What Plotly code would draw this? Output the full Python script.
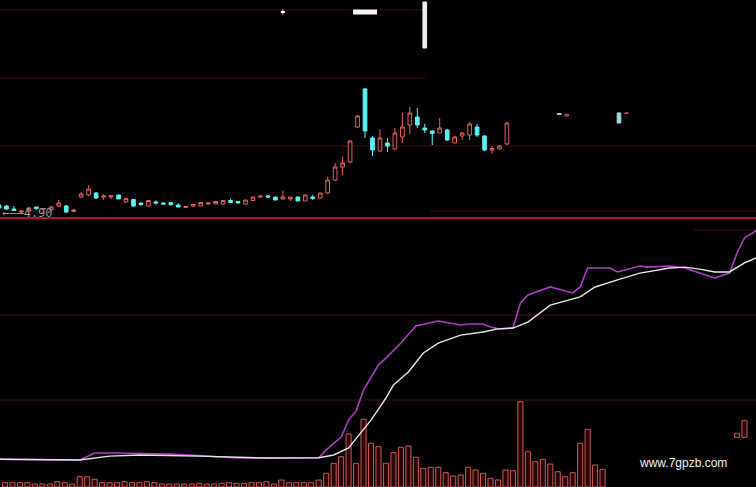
import plotly.graph_objects as go

# ---------------- price panel (daily candles) ----------------
days = list(range(69))
opens = [5.06, 5.04, 4.98, 4.92, 4.94, 5.02, 4.98, 4.96, 5.04, 5.04,
         4.93, 5.22, 5.26, 5.30, 5.22, 5.22, 5.26, 5.12, 5.17, 5.10,
         5.04, 5.12, 5.10, 5.11, 5.06, 5.01, 5.04, 5.04, 5.08, 5.08,
         5.08, 5.15, 5.13, 5.08, 5.15, 5.22, 5.24, 5.22, 5.18, 5.18,
         5.22, 5.14, 5.22, 5.20, 5.30, 5.56, 5.82, 5.92, 6.62, 7.38,
         6.40, 6.14, 6.30, 6.18, 6.42, 6.66, 6.82, 6.60, 6.54, 6.50,
         6.56, 6.30, 6.44, 6.46, 6.62, 6.44, 6.16, 6.18, 6.28]
closes = [5.00, 4.98, 4.95, 4.94, 5.00, 4.99, 4.99, 5.02, 5.10, 4.92,
          4.96, 5.28, 5.38, 5.20, 5.24, 5.25, 5.18, 5.19, 5.04, 5.07,
          5.15, 5.10, 5.08, 5.07, 5.02, 5.03, 5.07, 5.11, 5.10, 5.13,
          5.15, 5.11, 5.10, 5.16, 5.22, 5.24, 5.22, 5.16, 5.22, 5.22,
          5.14, 5.26, 5.19, 5.30, 5.56, 5.82, 5.90, 6.34, 6.84, 6.54,
          6.16, 6.40, 6.24, 6.50, 6.62, 6.90, 6.66, 6.56, 6.49, 6.60,
          6.36, 6.42, 6.50, 6.68, 6.46, 6.16, 6.19, 6.24, 6.70]
highs = [5.08, 5.06, 5.04, 4.96, 5.02, 5.02, 5.00, 5.04, 5.16, 5.06,
         4.98, 5.32, 5.46, 5.32, 5.28, 5.26, 5.26, 5.20, 5.18, 5.10,
         5.16, 5.15, 5.11, 5.11, 5.10, 5.04, 5.08, 5.11, 5.11, 5.13,
         5.15, 5.19, 5.13, 5.16, 5.23, 5.25, 5.26, 5.22, 5.35, 5.22,
         5.22, 5.26, 5.26, 5.30, 5.62, 5.90, 6.02, 6.36, 6.86, 7.40,
         6.44, 6.58, 6.40, 6.60, 6.90, 7.02, 7.00, 6.68, 6.55, 6.80,
         6.58, 6.44, 6.52, 6.72, 6.68, 6.46, 6.24, 6.26, 6.72]
lows = [4.98, 4.96, 4.94, 4.90, 4.92, 4.96, 4.96, 4.94, 5.02, 4.90,
        4.92, 5.20, 5.24, 5.18, 5.16, 5.18, 5.18, 5.10, 5.03, 5.04,
        5.03, 5.07, 5.07, 5.04, 5.02, 5.00, 5.03, 5.04, 5.07, 5.08,
        5.08, 5.11, 5.09, 5.08, 5.14, 5.21, 5.20, 5.16, 5.18, 5.14,
        5.14, 5.14, 5.16, 5.20, 5.28, 5.54, 5.66, 5.90, 6.60, 6.40,
        6.04, 6.12, 6.12, 6.16, 6.30, 6.48, 6.60, 6.50, 6.26, 6.50,
        6.34, 6.30, 6.36, 6.36, 6.42, 6.14, 6.08, 6.17, 6.26]

# stray ticks drawn to the right of the last candle
extra_days = [75, 76, 83, 84]
extra_open = [6.89, 6.84, 6.90, 6.89]
extra_close = [6.87, 6.87, 6.70, 6.90]
extra_high = [6.90, 6.89, 6.91, 6.91]
extra_low = [6.86, 6.83, 6.69, 6.88]

# white marks at the top of the price panel
white_days = [38, 57]
white_open = [8.93, 9.12]
white_close = [8.91, 8.20]
white_high = [8.97, 9.12]
white_low = [8.87, 8.20]
dash_days = [47.4, 50.6]
dash_price = [8.92, 8.92]

low_label = "←——4.90"
low_price = 4.90
price_grid = [8.96, 7.60]      # partial-width grid lines
price_grid_full = 6.24
price_min, price_max = 4.80, 9.16

# ---------------- lower panel: volume + indicator ----------------
vol_days = list(range(81))
volume = [430, 430, 430, 430, 300, 300, 300, 530, 430, 300,
          1030, 1030, 770, 430, 430, 430, 530, 430, 430, 530,
          430, 300, 300, 300, 300, 300, 370, 300, 300, 370,
          430, 370, 370, 430, 430, 530, 300, 700, 430, 430,
          430, 430, 700, 1370, 2370, 3030, 5300, 2370, 6770, 4370,
          4030, 2370, 3430, 3970, 4100, 2970, 1870, 1970, 1970, 1430,
          1100, 1200, 1970, 1700, 1370, 870, 700, 1700, 1630, 8530,
          3530, 2530, 2770, 2300, 1530, 1030, 1430, 4370, 5770, 2200,
          1770]
float_days = [98, 99]
float_base = [4970, 4970]
float_height = [400, 1660]
vol_max = 26900

white_x = [-1, 10, 14, 18, 26, 35, 42, 44, 46, 48, 49, 50, 51, 52, 54, 56, 58,
           61, 64, 66, 68, 70, 73, 77, 79, 82, 85, 89, 91, 93, 95, 97, 99, 100, 101]
white_v = [9.1, 8.8, 10.2, 10.6, 10.2, 9.5, 9.6, 10.6, 13.1, 19.4, 22.9, 26.8,
           30.7, 35.3, 39.9, 46.6, 50.1, 52.9, 54.0, 55.1, 55.4, 57.5, 63.5, 66.4,
           69.9, 72.4, 74.8, 76.6, 76.9, 76.2, 75.2, 75.2, 78.4, 79.5, 80.7]
magenta_x = [-1, 10, 12, 15, 22, 26, 31, 37, 42, 43, 45, 46, 47, 48, 50, 51, 53,
             55, 58, 61, 62, 64, 65, 66, 68, 69, 70, 73, 76, 77, 78, 81, 82, 85,
             86, 89, 91, 95, 97, 98, 99, 101]
magenta_v = [9.1, 8.8, 11.3, 11.3, 10.9, 10.4, 9.5, 9.5, 9.6, 12.4, 16.9, 22.9,
             26.1, 33.5, 42.4, 44.8, 50.1, 56.1, 57.9, 56.5, 56.8, 56.8, 55.8,
             55.1, 55.4, 64.2, 67.1, 69.9, 67.8, 69.9, 76.6, 76.6, 75.2, 77.3,
             76.9, 77.3, 76.6, 73.1, 74.8, 81.9, 87.2, 90.5]
ind_grid = [30, 60]
ind_grid_partial = 90
ind_min, ind_max = -0.71, 94.24

watermark = "www.7gpzb.com"

# ---------------- figure ----------------
W, H = 756, 487
split = 1 - 218 / H
UP = "#e8625c"
DOWN = "#58f4f4"
GRID = "#4a0d18"

fig = go.Figure()
fig.add_trace(go.Candlestick(
    x=days, open=opens, high=highs, low=lows, close=closes,
    increasing=dict(line=dict(color=UP, width=1), fillcolor="#000000"),
    decreasing=dict(line=dict(color=DOWN, width=1), fillcolor=DOWN),
    whiskerwidth=0, xaxis="x", yaxis="y", hoverinfo="skip"))
fig.add_trace(go.Candlestick(
    x=extra_days, open=extra_open, high=extra_high, low=extra_low, close=extra_close,
    increasing=dict(line=dict(color="#c05050", width=1), fillcolor="#000000"),
    decreasing=dict(line=dict(color="#9ad8d8", width=1), fillcolor="#9ad8d8"),
    xaxis="x", yaxis="y", hoverinfo="skip"))
fig.add_trace(go.Candlestick(
    x=white_days, open=white_open, high=white_high, low=white_low, close=white_close,
    increasing=dict(line=dict(color="#f0f0f0", width=1), fillcolor="#f0f0f0"),
    decreasing=dict(line=dict(color="#f0f0f0", width=1), fillcolor="#f0f0f0"),
    xaxis="x", yaxis="y", hoverinfo="skip"))
fig.add_trace(go.Scatter(
    x=dash_days, y=dash_price, mode="lines",
    line=dict(color="#f4f4f4", width=5),
    xaxis="x", yaxis="y", hoverinfo="skip"))

fig.add_trace(go.Bar(
    x=vol_days, y=volume, width=0.68,
    marker=dict(color="#2a0606", line=dict(color="#c85a58", width=1)),
    xaxis="x2", yaxis="y2", hoverinfo="skip"))
fig.add_trace(go.Bar(
    x=float_days, y=float_height, base=float_base, width=0.68,
    marker=dict(color="#2a0606", line=dict(color="#c85a58", width=1)),
    xaxis="x2", yaxis="y2", hoverinfo="skip"))
fig.add_trace(go.Scatter(
    x=magenta_x, y=magenta_v, mode="lines",
    line=dict(color="#b03cc8", width=1.6),
    xaxis="x2", yaxis="y3", hoverinfo="skip"))
fig.add_trace(go.Scatter(
    x=white_x, y=white_v, mode="lines",
    line=dict(color="#e6e6e6", width=1.4),
    xaxis="x2", yaxis="y3", hoverinfo="skip"))

shapes = []
for g in price_grid:
    shapes.append(dict(type="line", xref="paper", yref="y", x0=0, x1=425 / W,
                       y0=g, y1=g, line=dict(color=GRID, width=1), layer="below"))
shapes.append(dict(type="line", xref="paper", yref="y", x0=0, x1=1,
                   y0=price_grid_full, y1=price_grid_full,
                   line=dict(color=GRID, width=1), layer="below"))
shapes.append(dict(type="line", xref="paper", yref="y", x0=430 / W, x1=1,
                   y0=4.94, y1=4.94, line=dict(color="#3c0a14", width=1), layer="below"))
for g in ind_grid:
    shapes.append(dict(type="line", xref="paper", yref="y3", x0=0, x1=1,
                       y0=g, y1=g, line=dict(color=GRID, width=1), layer="below"))
shapes.append(dict(type="line", xref="paper", yref="y3", x0=693 / W, x1=1,
                   y0=ind_grid_partial, y1=ind_grid_partial,
                   line=dict(color=GRID, width=1), layer="below"))
shapes.append(dict(type="line", xref="paper", yref="paper", x0=0, x1=1,
                   y0=split, y1=split, line=dict(color="#b0103c", width=2)))

annotations = [
    dict(text=low_label, x=0, xref="paper", xanchor="left", y=low_price, yref="y",
         yanchor="middle", showarrow=False,
         font=dict(family="DejaVu Sans Mono", size=12, color="#9a9a9a")),
    dict(text=watermark, x=637 / W, xref="paper", xanchor="left", y=(H - 463) / H,
         yref="paper", yanchor="middle", showarrow=False,
         font=dict(family="Liberation Sans", size=12, color="#f2f2f2")),
]

fig.update_layout(
    width=W, height=H, margin=dict(l=0, r=0, t=0, b=0),
    paper_bgcolor="#000000", plot_bgcolor="#000000", showlegend=False,
    xaxis=dict(domain=[0, 1], range=[0.134, 101.34], visible=False,
               anchor="y", rangeslider=dict(visible=False), fixedrange=True),
    yaxis=dict(domain=[split, 1], range=[price_min, price_max], visible=False,
               anchor="x", fixedrange=True),
    xaxis2=dict(domain=[0, 1], range=[-0.669, 100.54], visible=False, anchor="y2"),
    yaxis2=dict(domain=[0, split], range=[0, vol_max], visible=False, anchor="x2"),
    yaxis3=dict(domain=[0, split], range=[ind_min, ind_max], visible=False,
                overlaying="y2", anchor="x2"),
    shapes=shapes, annotations=annotations, barmode="overlay",
)

page_js = ("document.body.style.margin='0';"
           "document.body.style.background='#000';"
           "document.body.style.overflow='hidden';")
fig.write_html("out.html", config={"displayModeBar": False}, post_script=page_js)
